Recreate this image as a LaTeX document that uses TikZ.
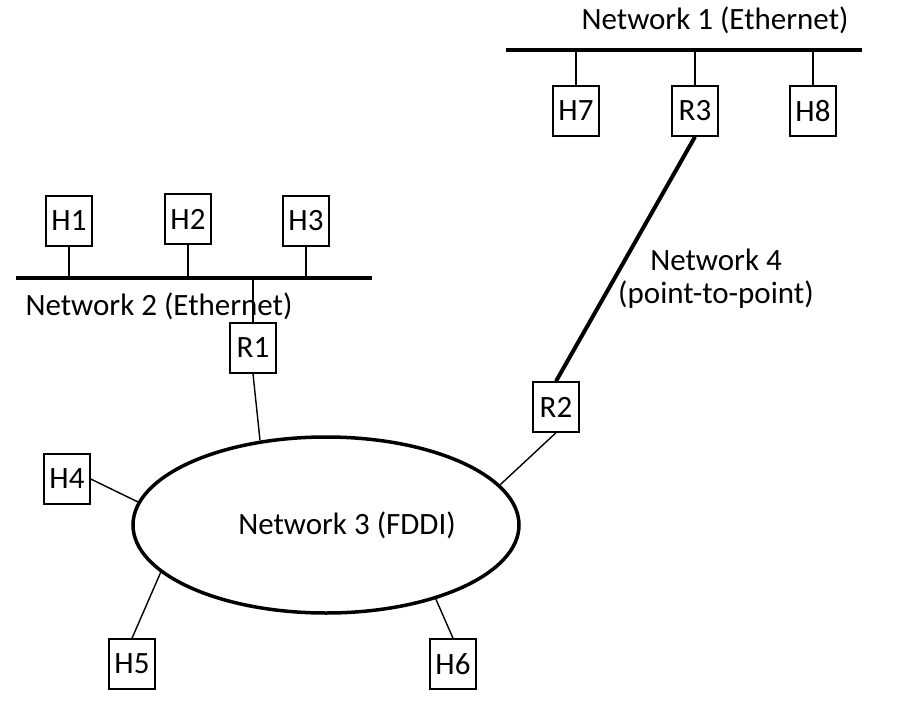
\documentclass[tikz,border=0pt]{standalone}
\usepackage{fontspec}
\setmainfont{Carlito}
\usetikzlibrary{shapes.geometric}
\begin{document}
\begin{tikzpicture}[x=1pt,y=-1pt,
  lbl/.style={font=\fontsize{31}{33}\selectfont, inner sep=0pt},
  dev/.style={draw, line width=1.5pt, minimum width=46pt, minimum height=50pt, inner sep=0pt, font=\fontsize{31}{33}\selectfont},
  bar/.style={line width=4pt},
  thin/.style={line width=1.4pt},
  thick4/.style={line width=4pt}]
\useasboundingbox (0,0) rectangle (904,714);
% Network 1
\coordinate (n1a) at (506,50);
\coordinate (n1b) at (862,50);
\draw[bar] (n1a) -- (n1b);
\node[lbl] (n1t) at (715,20) {Network 1 (Ethernet)};
\node[dev] (h7) at (576,111) {H7};
\node[dev] (r3) at (695,111) {R3};
\node[dev] (h8) at (813,111) {H8};
\foreach \n in {h7,r3,h8} \draw[thin] (\n.north) -- (\n.north |- n1a);
% Network 2
\coordinate (n2a) at (16,278);
\coordinate (n2b) at (372,278);
\draw[bar] (n2a) -- (n2b);
\node[lbl] (n2t) at (159,306) {Network 2 (Ethernet)};
\node[dev] (h1) at (69,221) {H1};
\node[dev] (h2) at (188,219) {H2};
\node[dev] (h3) at (306,221) {H3};
\foreach \n in {h1,h2,h3} \draw[thin] (\n.south) -- (\n.south |- n2a);
\node[dev] (r1) at (253,348) {R1};
\draw[thin] (r1.north) -- (r1.north |- n2a);
% Network 3
\node[draw, ellipse, line width=3.5pt, minimum width=386pt, minimum height=176pt, inner sep=0pt] (n3) at (326,525) {};
\node[lbl] (n3t) at (347,525) {Network 3 (FDDI)};
\node[dev] (h4) at (67,479) {H4};
\node[dev] (h5) at (132,664) {H5};
\node[dev] (h6) at (453,664) {H6};
\node[dev] (r2) at (556,407) {R2};
\draw[thin] (h4.east) -- (n3.173);
\draw[thin] (h5.north) -- (n3.196);
\draw[thin] (h6.north) -- (n3.326);
\draw[thin] (r1.south) -- (n3.128);
\draw[thin] (r2.south) -- (n3.13);
% Network 4
\draw[thick4] (r2.north) -- (r3.south);
\node[lbl, align=center] (n4t) at (716,279) {Network 4\\(point-to-point)};
\end{tikzpicture}
\end{document}
